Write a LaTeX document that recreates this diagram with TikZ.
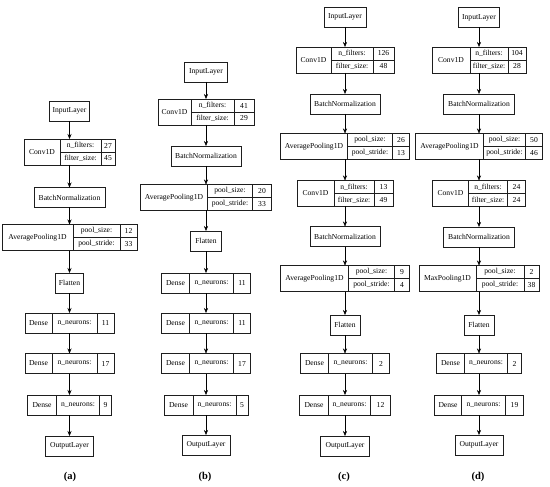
\documentclass[tikz,border=0pt]{standalone}
\usepackage{fontspec}
\setmainfont{Liberation Serif}
\usetikzlibrary{arrows.meta}
\definecolor{edgegray}{HTML}{1E1E1E}
\tikzset{
  cell/.style={draw=edgegray,line width=.6pt,inner sep=0pt,outer sep=0pt,
    minimum height=13pt,font=\fontsize{7.6}{9}\selectfont},
  frame/.style={inner sep=0pt,outer sep=0pt,minimum height=26pt},
  caption/.style={font=\bfseries\fontsize{10.5}{12}\selectfont},
}
% one-cell layer: name, centre, width, text
\newcommand{\plainrec}[4]{\node[cell,minimum height=20pt,minimum width=#3pt] (#1) at (#2) {#4};}
% Dense layer: name, centre, widths, units
\newcommand{\denserec}[6]{%
  \node[frame,minimum height=20pt,minimum width=#3pt+#4pt+#5pt] (#1) at (#2) {};
  \node[cell,minimum height=20pt,minimum width=#3pt,anchor=west] (#1l) at (#1.west) {Dense};
  \node[cell,minimum height=20pt,minimum width=#4pt,anchor=west] (#1k) at (#1l.east) {n\_neurons:};
  \node[cell,minimum height=20pt,minimum width=#5pt,anchor=west] (#1v) at (#1k.east) {#6};}
% layer with two parameters: name, centre, label, widths, values
\newcommand{\pairrec}[8]{%
  \node[frame,minimum width=#4pt+#5pt+#6pt] (#1) at (#2) {};
  \node[cell,minimum height=26pt,minimum width=#4pt,anchor=west] (#1l) at (#1.west) {#3};
  \node[cell,minimum width=#5pt,anchor=north west] (#1ka) at (#1l.north east) {\keyone};
  \node[cell,minimum width=#5pt,anchor=north west] (#1kb) at (#1ka.south west) {\keytwo};
  \node[cell,minimum width=#6pt,anchor=north west] (#1va) at (#1ka.north east) {#7};
  \node[cell,minimum width=#6pt,anchor=north west] (#1vb) at (#1va.south west) {#8};}
\newcommand{\convrec}[7]{\def\keyone{n\_filters:}\def\keytwo{filter\_size:}%
  \pairrec{#1}{#2}{Conv1D}{#3}{#4}{#5}{#6}{#7}}
\newcommand{\poolrec}[8]{\def\keyone{pool\_size:}\def\keytwo{pool\_stride:}%
  \pairrec{#1}{#2}{#3}{#4}{#5}{#6}{#7}{#8}}

\begin{document}
\begin{tikzpicture}[x=1pt,y=-1pt,>={Stealth[length=5pt,width=4pt]}]
 \useasboundingbox (0,0) rectangle (550,487);
 % (a)
 \plainrec{a1}{69.5,111}{40}{InputLayer}
 \convrec{a2}{69.5,152}{36}{41}{14}{27}{45}
 \plainrec{a3}{69.5,197.5}{71}{BatchNormalization}
 \poolrec{a4}{69.5,237.5}{AveragePooling1D}{71}{47}{17}{12}{33}
 \plainrec{a5}{69.5,283}{28}{Flatten}
 \denserec{a6}{69.5,323}{27}{45}{17}{11}
 \denserec{a7}{69.5,363.5}{27}{45}{17}{17}
 \denserec{a8}{69.5,405}{29}{43}{12}{9}
 \plainrec{a9}{69.5,446}{48}{OutputLayer}
 % (b)
 \plainrec{b1}{206,72}{43}{InputLayer}
 \convrec{b2}{206,112}{33}{43}{20}{41}{29}
 \plainrec{b3}{206,156}{70}{BatchNormalization}
 \poolrec{b4}{206,197.5}{AveragePooling1D}{67}{45}{19}{20}{33}
 \plainrec{b5}{206,241}{31}{Flatten}
 \denserec{b6}{206,283}{28}{44}{17}{11}
 \denserec{b7}{206,323}{28}{44}{17}{11}
 \denserec{b8}{206,363.5}{28}{44}{17}{17}
 \denserec{b9}{206,405}{29}{43}{12}{5}
 \plainrec{b10}{206,445}{48}{OutputLayer}
 % (c)
 \plainrec{c1}{345,17}{42}{InputLayer}
 \convrec{c2}{345,60}{35}{42}{21}{126}{48}
 \plainrec{c3}{345,104}{70}{BatchNormalization}
 \poolrec{c4}{345,146.5}{AveragePooling1D}{67}{45}{17}{26}{13}
 \convrec{c5}{345,193.5}{37}{40}{19}{13}{49}
 \plainrec{c6}{345,236.5}{70}{BatchNormalization}
 \poolrec{c7}{345,278.5}{AveragePooling1D}{68}{46}{15}{9}{4}
 \plainrec{c8}{345,325}{30}{Flatten}
 \denserec{c9}{345,363.5}{28}{44}{17}{2}
 \denserec{c10}{345,405}{29}{42}{20}{12}
 \plainrec{c11}{345,446}{49}{OutputLayer}
 % (d)
 \plainrec{d1}{479,17.5}{41}{InputLayer}
 \convrec{d2}{479,60}{38}{38}{18}{104}{28}
 \plainrec{d3}{479,104}{71}{BatchNormalization}
 \poolrec{d4}{479,146.5}{AveragePooling1D}{68}{42}{17}{50}{46}
 \convrec{d5}{479,193.5}{36}{39}{18}{24}{24}
 \plainrec{d6}{479,237}{71}{BatchNormalization}
 \poolrec{d7}{479,278.5}{MaxPooling1D}{57}{48}{15}{2}{38}
 \plainrec{d8}{479,325}{30}{Flatten}
 \denserec{d9}{479,363.5}{28}{43}{14}{2}
 \denserec{d10}{479,405}{27}{44}{18}{19}
 \plainrec{d11}{479,445}{48}{OutputLayer}
 % arrows
 \draw[->] (a1)--(a2); \draw[->] (a2)--(a3); \draw[->] (a3)--(a4); \draw[->] (a4)--(a5);
 \draw[->] (a5)--(a6); \draw[->] (a6)--(a7); \draw[->] (a7)--(a8); \draw[->] (a8)--(a9);
 \draw[->] (b1)--(b2); \draw[->] (b2)--(b3); \draw[->] (b3)--(b4); \draw[->] (b4)--(b5);
 \draw[->] (b5)--(b6); \draw[->] (b6)--(b7); \draw[->] (b7)--(b8); \draw[->] (b8)--(b9);
 \draw[->] (b9)--(b10);
 \draw[->] (c1)--(c2); \draw[->] (c2)--(c3); \draw[->] (c3)--(c4); \draw[->] (c4)--(c5);
 \draw[->] (c5)--(c6); \draw[->] (c6)--(c7); \draw[->] (c7)--(c8); \draw[->] (c8)--(c9);
 \draw[->] (c9)--(c10); \draw[->] (c10)--(c11);
 \draw[->] (d1)--(d2); \draw[->] (d2)--(d3); \draw[->] (d3)--(d4); \draw[->] (d4)--(d5);
 \draw[->] (d5)--(d6); \draw[->] (d6)--(d7); \draw[->] (d7)--(d8); \draw[->] (d8)--(d9);
 \draw[->] (d9)--(d10); \draw[->] (d10)--(d11);
 % captions
 \node[caption] (capa) at (70,477) {(a)};
 \node[caption] (capb) at (205,477) {(b)};
 \node[caption] (capc) at (344,477) {(c)};
 \node[caption] (capd) at (478,477) {(d)};
\end{tikzpicture}
\end{document}
